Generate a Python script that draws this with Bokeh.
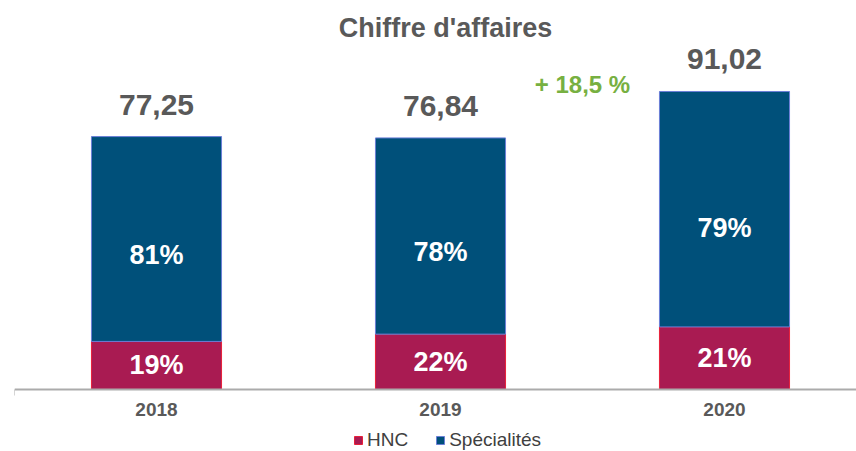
from bokeh.plotting import figure
from bokeh.models import (ColumnDataSource, Range1d, FixedTicker, Label, LabelSet,
                          Legend, LegendItem)
from bokeh.core.properties import value
from bokeh.embed import file_html
from bokeh.resources import INLINE

# ---- data ----
years = ["2018", "2019", "2020"]
totals = [77.25, 76.84, 91.02]
hnc_pct = [19, 22, 21]
spec_pct = [81, 78, 79]
title_text = "Chiffre d'affaires"
series_names = ["HNC", "Spécialités"]

# ---- derived ----
xs = list(range(len(years)))
hnc_val = [t * p / 100 for t, p in zip(totals, hnc_pct)]
spec_val = [t - h for t, h in zip(totals, hnc_val)]
fmt = lambda v: f"{v:.2f}".replace(".", ",")
growth = (totals[-1] / totals[-2] - 1) * 100

src = ColumnDataSource(dict(
    x=xs,
    hnc=hnc_val,
    spec=spec_val,
    total=totals,
    total_lbl=[fmt(t) for t in totals],
    hnc_lbl=[f"{p}%" for p in hnc_pct],
    spec_lbl=[f"{p}%" for p in spec_pct],
    hnc_mid=[h / 2 for h in hnc_val],
    spec_mid=[h + s * 0.42 for h, s in zip(hnc_val, spec_val)],
))

BLUE = "#00507A"
RED = "#A91B52"
GRAY = "#595959"
FONT = "Liberation Sans"

p = figure(width=856, height=451, output_backend="svg", toolbar_location=None,
           x_range=Range1d(-0.5, 2.4648), y_range=Range1d(-18.94, 118.81),
           min_border_left=14, min_border_right=0, min_border_top=0,
           min_border_bottom=0, y_axis_location=None)
p.outline_line_color = None
p.xgrid.visible = False
p.ygrid.visible = False

r_hnc = p.vbar(x="x", top="hnc", bottom=0, width=0.458, source=src,
               fill_color=RED, line_color="#E8203A", line_width=1)
r_spec = p.vbar(x="x", top="total", bottom="hnc", width=0.458, source=src,
                fill_color=BLUE, line_color="#6B7FD7", line_width=1)

# axis
ax = p.xaxis[0]
ax.fixed_location = 0
ax.ticker = FixedTicker(ticks=xs, minor_ticks=[-0.5])
ax.major_label_overrides = {i: y for i, y in zip(xs, years)}
ax.axis_line_color = "#ABABAB"
ax.axis_line_width = 2
ax.major_tick_line_color = None
ax.minor_tick_line_color = "#ABABAB"
ax.minor_tick_out = 6
ax.minor_tick_in = 0
ax.major_label_standoff = 8
ax.major_label_text_font = FONT
ax.major_label_text_font_style = "bold"
ax.major_label_text_font_size = "19px"
ax.major_label_text_color = GRAY

# labels
p.add_layout(LabelSet(x="x", y="total", text="total_lbl", source=src, y_offset=32,
                      text_align="center", text_baseline="middle",
                      text_font=value(FONT), text_font_style="bold", text_font_size="30px",
                      text_color=GRAY))
p.add_layout(LabelSet(x="x", y="spec_mid", text="spec_lbl", source=src,
                      text_align="center", text_baseline="middle",
                      text_font=value(FONT), text_font_style="bold", text_font_size="27px",
                      text_color="white"))
p.add_layout(LabelSet(x="x", y="hnc_mid", text="hnc_lbl", source=src,
                      text_align="center", text_baseline="middle",
                      text_font=value(FONT), text_font_style="bold", text_font_size="27px",
                      text_color="white"))
p.add_layout(Label(x=1.5, y=totals[-1], y_offset=7,
                   text=f"+ {growth:.1f} %".replace(".", ","),
                   text_align="center", text_baseline="middle",
                   text_font=FONT, text_font_style="bold", text_font_size="24px",
                   text_color="#77B041"))
p.add_layout(Label(x=431, y=424, x_units="screen", y_units="screen", text=title_text,
                   text_align="center", text_baseline="middle",
                   text_font=FONT, text_font_style="bold", text_font_size="27px",
                   text_color=GRAY))

legend = Legend(items=[LegendItem(label=series_names[0], renderers=[r_hnc]),
                       LegendItem(label=series_names[1], renderers=[r_spec])],
                orientation="horizontal", location=(339, 0),
                glyph_width=10, glyph_height=10, label_standoff=4, spacing=27,
                padding=0, margin=0, border_line_color=None,
                background_fill_alpha=0,
                label_text_font=FONT, label_text_font_size="19px",
                label_text_color="#404040", label_height=14)
p.add_layout(legend, "center")

open("out.html", "w").write(file_html(p, INLINE))
